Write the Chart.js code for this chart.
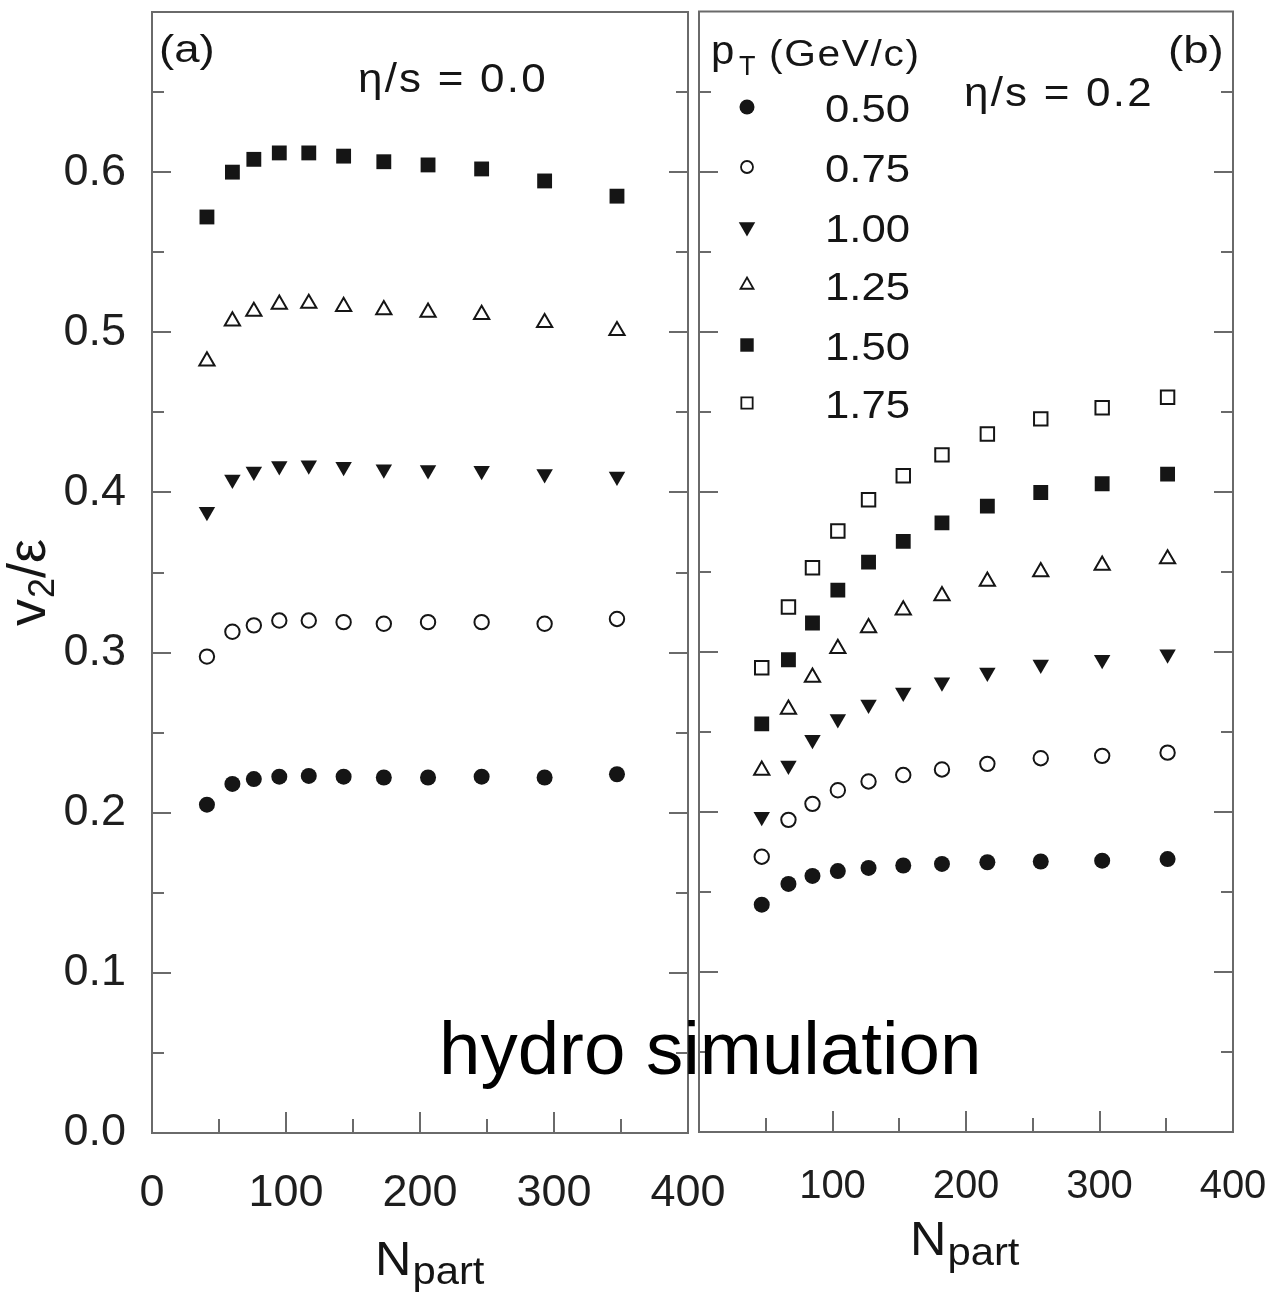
<!DOCTYPE html>
<html lang="en">
<head>
<meta charset="UTF-8">
<title>v2/eps vs Npart - hydro</title>
<script src="https://cdn.jsdelivr.net/npm/chart.js"></script>
<style>
  body { margin: 0; background: #fff; }
  #wrap { position: relative; width: 1270px; height: 1295px; overflow: hidden; }
  canvas { position: absolute; top: 0; }
  #chartA { left: 0; }
  #chartB { left: 640px; }
  #hydro {
    position: absolute; left: 439px; top: 1012px; z-index: 5;
    font: 74.5px/1 "Liberation Sans", Arial, sans-serif; color: #000; white-space: nowrap;
  }
</style>
</head>
<body>
<div id="wrap">
  <canvas id="chartA" width="740" height="1295" style="width:740px;height:1295px"></canvas>
  <canvas id="chartB" width="630" height="1295" style="width:630px;height:1295px"></canvas>
  <div id="hydro">hydro simulation</div>
</div>
<script>
// N_part positions (panel a: eta/s = 0.0, panel b: eta/s = 0.2)
const nPartA = [41, 60, 76, 95, 117, 143, 173, 206, 246, 293, 347];
const nPartB = [47, 67, 85, 104, 127, 153, 182, 216, 256, 302, 351];
const ptLabels = ['0.50', '0.75', '1.00', '1.25', '1.50', '1.75'];

// v2/eps, panel (a)
const a050 = [0.205, 0.218, 0.221, 0.2225, 0.223, 0.2225, 0.222, 0.222, 0.2225, 0.222, 0.224];
const a075 = [0.2975, 0.313, 0.317, 0.320, 0.320, 0.319, 0.318, 0.319, 0.319, 0.318, 0.321];
const a100 = [0.388, 0.408, 0.413, 0.4165, 0.417, 0.416, 0.4145, 0.414, 0.4135, 0.4115, 0.410];
const a125 = [0.482, 0.507, 0.513, 0.5175, 0.518, 0.516, 0.514, 0.5125, 0.511, 0.506, 0.501];
const a150 = [0.572, 0.600, 0.608, 0.612, 0.612, 0.610, 0.6065, 0.6045, 0.602, 0.5945, 0.585];

// v2/eps, panel (b)
const b050 = [0.142, 0.155, 0.160, 0.163, 0.165, 0.1665, 0.1675, 0.1685, 0.169, 0.1695, 0.1705];
const b075 = [0.172, 0.195, 0.205, 0.2135, 0.219, 0.223, 0.2265, 0.230, 0.2335, 0.235, 0.237];
const b100 = [0.197, 0.229, 0.245, 0.258, 0.267, 0.2745, 0.281, 0.287, 0.292, 0.295, 0.2985];
const b125 = [0.226, 0.264, 0.284, 0.302, 0.315, 0.326, 0.335, 0.344, 0.350, 0.354, 0.358];
const b150 = [0.255, 0.295, 0.318, 0.3385, 0.356, 0.369, 0.3805, 0.391, 0.3995, 0.405, 0.411];
const b175 = [0.290, 0.328, 0.3525, 0.3755, 0.395, 0.410, 0.423, 0.436, 0.4455, 0.4525, 0.459];

const FONT = '"Liberation Sans", Arial, Helvetica, sans-serif';
const INK = '#151515';
const FRAME = '#6a6a6a';

// marker look per pT bin
const markers = [
  { pointStyle: 'circle',   fill: true,  r: 8,    rot: 0,   lr: 7.5 },
  { pointStyle: 'circle',   fill: false, r: 7.2,  rot: 0,   lr: 6 },
  { pointStyle: 'triangle', fill: true,  r: 9.5,  rot: 180, lr: 9.5 },
  { pointStyle: 'triangle', fill: false, r: 8.8,  rot: 0,   lr: 7.5 },
  { pointStyle: 'rect',     fill: true,  r: 10.5, rot: 0,   lr: 9.5 },
  { pointStyle: 'rect',     fill: false, r: 9.5,  rot: 0,   lr: 8 }
];

function makeSet(i, xs, ys) {
  const m = markers[i];
  return {
    label: ptLabels[i],
    data: xs.map((x, k) => ({ x: x, y: ys[k] })),
    showLine: false,
    pointStyle: m.pointStyle,
    pointRotation: m.rot,
    pointRadius: m.r,
    pointHoverRadius: m.r,
    pointBackgroundColor: m.fill ? INK : '#fff',
    pointBorderColor: INK,
    pointBorderWidth: m.fill ? 0 : 2
  };
}

function isMult(v, step) {
  return Math.abs(v / step - Math.round(v / step)) < 1e-6;
}

function drawStr(ctx, str, x, y, size, o) {
  o = o || {};
  ctx.save();
  ctx.font = size + 'px ' + FONT;
  ctx.fillStyle = o.color || INK;
  ctx.textAlign = o.align || 'left';
  ctx.textBaseline = 'alphabetic';
  if ('letterSpacing' in ctx) ctx.letterSpacing = (o.ls || 0) + 'px';
  ctx.translate(x, y);
  ctx.scale(o.sx || 1, 1);
  ctx.fillText(str, 0, 0);
  const w = ctx.measureText(str).width * (o.sx || 1);
  ctx.restore();
  return w;
}

// frame + inward ticks, drawn from the scales
const framePlugin = {
  id: 'framePlugin',
  beforeDatasetsDraw(chart) {
    const { ctx, chartArea: a, scales: { x, y } } = chart;
    ctx.save();
    ctx.strokeStyle = FRAME;
    ctx.lineWidth = 2;
    ctx.strokeRect(a.left, a.top, a.right - a.left, a.bottom - a.top);
    ctx.beginPath();
    y.ticks.forEach(t => {
      if (t.value <= y.min + 1e-9 || t.value >= y.max - 1e-9) return;
      const py = Math.round(y.getPixelForValue(t.value));
      const len = isMult(t.value, 0.1) ? 19 : 12;
      ctx.moveTo(a.left, py); ctx.lineTo(a.left + len, py);
      ctx.moveTo(a.right, py); ctx.lineTo(a.right - len, py);
    });
    x.ticks.forEach(t => {
      if (t.value <= x.min || t.value >= x.max) return;
      const px = Math.round(x.getPixelForValue(t.value));
      const len = isMult(t.value, 100) ? 21 : 14;
      ctx.moveTo(px, a.bottom); ctx.lineTo(px, a.bottom - len);
    });
    ctx.stroke();
    ctx.restore();
  }
};

function nPartTitle(ctx, x, y, dy) {
  const w = drawStr(ctx, 'N', x, y, 48, { sx: 1.05 });
  drawStr(ctx, 'part', x + w + 1, y + dy, 38, { sx: 1.1 });
}

const textA = {
  id: 'textA',
  afterDraw(chart) {
    const ctx = chart.ctx;
    drawStr(ctx, '(a)', 159, 62, 38, { sx: 1.2 });
    drawStr(ctx, 'η/s = 0.0', 358, 92, 40, { sx: 1.1, ls: 2 });
    nPartTitle(ctx, 375, 1275, 9);
    // y title v2/eps, rotated
    ctx.save();
    ctx.translate(45, 626);
    ctx.rotate(-Math.PI / 2);
    let w = drawStr(ctx, 'v', 0, 0, 54);
    w += drawStr(ctx, '2', w + 1, 9, 36) + 1;
    drawStr(ctx, '/ε', w, 0, 54);
    ctx.restore();
  }
};

const textB = {
  id: 'textB',
  afterDraw(chart) {
    const ctx = chart.ctx;
    const ox = 640;
    drawStr(ctx, '(b)', 1168 - ox, 63, 38, { sx: 1.2 });
    drawStr(ctx, 'η/s = 0.2', 964 - ox, 106, 40, { sx: 1.1, ls: 2 });
    // legend title
    drawStr(ctx, 'p', 711 - ox, 64, 40, { sx: 1.05 });
    drawStr(ctx, 'T', 739 - ox, 75, 27);
    drawStr(ctx, '(GeV/c)', 769 - ox, 66, 37, { sx: 1.1, ls: 1.5 });
    // legend rows
    const rowY = [107, 167, 227, 285, 345, 403];
    ptLabels.forEach((lab, i) => {
      const m = markers[i];
      const cy = rowY[i];
      ctx.save();
      ctx.fillStyle = m.fill ? INK : '#fff';
      ctx.strokeStyle = INK;
      ctx.lineWidth = m.fill ? 0 : 1.8;
      if (Chart.helpers && Chart.helpers.drawPoint) {
        Chart.helpers.drawPoint(ctx, {
          pointStyle: m.pointStyle, radius: m.lr, rotation: m.rot,
          borderWidth: m.fill ? 0 : 1.8
        }, 747 - ox, cy);
      }
      ctx.restore();
      drawStr(ctx, lab, 910 - ox, cy + 15, 39, { align: 'right', sx: 1.12 });
    });
    nPartTitle(ctx, 910 - ox, 1255, 10);
  }
};

// keep Chart.js from shrinking the plot area for label overhang
function noPad(s) {
  s.paddingLeft = 0; s.paddingRight = 0; s.paddingTop = 0; s.paddingBottom = 0;
}

function panelOptions(o) {
  return {
    responsive: false,
    animation: false,
    events: [],
    layout: { padding: { top: o.top, right: o.right, bottom: 0, left: 0 } },
    plugins: { legend: { display: false }, tooltip: { enabled: false } },
    scales: {
      x: {
        type: 'linear', min: 0, max: 400,
        grid: { display: false, drawTicks: false },
        border: { display: false },
        afterFit: s => { s.height = o.xh; noPad(s); },
        ticks: {
          stepSize: 50, autoSkip: false, maxRotation: 0,
          padding: o.xpad, color: '#1e1e1e',
          font: { family: FONT, size: o.xfont },
          callback: v => (isMult(v, 100) && v >= o.xfirst) ? String(v) : ''
        }
      },
      y: {
        type: 'linear', min: 0, max: 0.7,
        grid: { display: false, drawTicks: false },
        border: { display: false },
        afterFit: s => { s.width = o.yw; noPad(s); },
        ticks: {
          display: o.ylabels, stepSize: 0.05, autoSkip: false,
          padding: 26, color: '#1e1e1e',
          font: { family: FONT, size: 45 },
          callback: v => (isMult(v, 0.1) && v < 0.65) ? v.toFixed(1) : ''
        }
      }
    }
  };
}

new Chart(document.getElementById('chartA'), {
  type: 'scatter',
  data: {
    datasets: [
      makeSet(0, nPartA, a050),
      makeSet(1, nPartA, a075),
      makeSet(2, nPartA, a100),
      makeSet(3, nPartA, a125),
      makeSet(4, nPartA, a150)
    ]
  },
  options: panelOptions({ top: 12, right: 52, xh: 162, yw: 152, xpad: 34, xfont: 45, xfirst: 0, ylabels: true }),
  plugins: [framePlugin, textA]
});

new Chart(document.getElementById('chartB'), {
  type: 'scatter',
  data: {
    datasets: [
      makeSet(0, nPartB, b050),
      makeSet(1, nPartB, b075),
      makeSet(2, nPartB, b100),
      makeSet(3, nPartB, b125),
      makeSet(4, nPartB, b150),
      makeSet(5, nPartB, b175)
    ]
  },
  options: panelOptions({ top: 11, right: 37, xh: 163, yw: 59, xpad: 31, xfont: 40, xfirst: 100, ylabels: false }),
  plugins: [framePlugin, textB]
});
</script>
</body>
</html>
